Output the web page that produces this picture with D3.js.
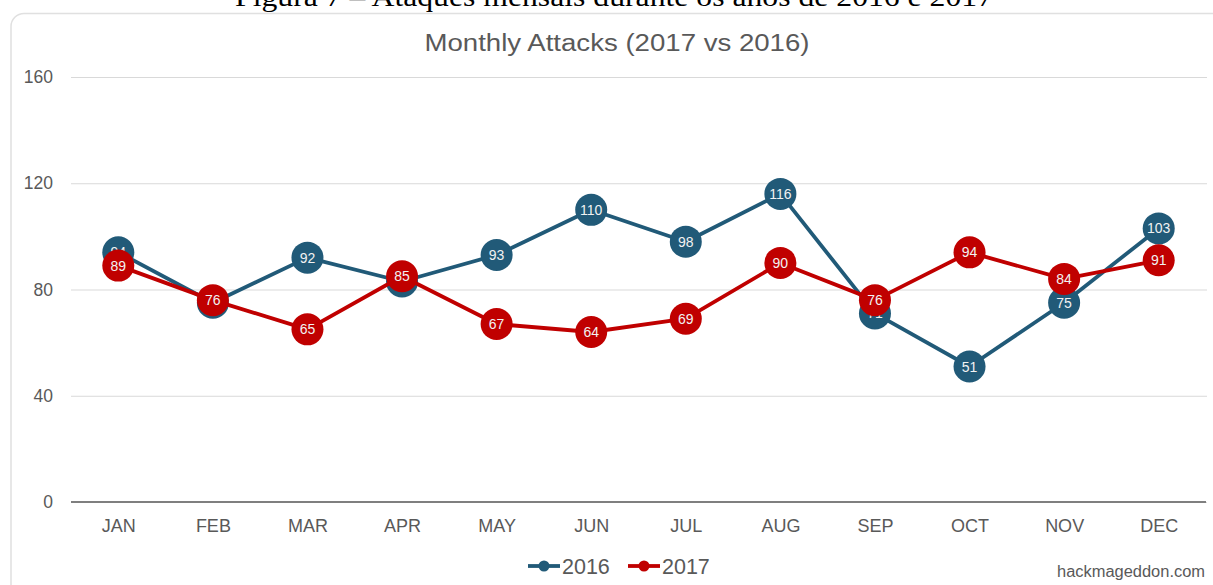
<!DOCTYPE html>
<html>
<head>
<meta charset="utf-8">
<script src="https://cdn.jsdelivr.net/npm/d3@7"></script>
<style>
  html, body { margin: 0; padding: 0; background: #ffffff; }
  svg { display: block; }
</style>
</head>
<body>
<svg id="chart" width="1213" height="585"></svg>
<script>
const months = ["JAN","FEB","MAR","APR","MAY","JUN","JUL","AUG","SEP","OCT","NOV","DEC"];
const attacks2016 = [94, 75, 92, 83, 93, 110, 98, 116, 71, 51, 75, 103];
const attacks2017 = [89, 76, 65, 85, 67, 64, 69, 90, 76, 94, 84, 91];
const yTicks = [0, 40, 80, 120, 160];
const seriesNames = ["2016", "2017"];
const seriesColors = ["#215a78", "#c00000"];
const caption = "Figura 7 – Ataques mensais durante os anos de 2016 e 2017";
const chartTitle = "Monthly Attacks (2017 vs 2016)";
const watermark = "hackmageddon.com";

const svg = d3.select("#chart");
const plot = { left: 71, right: 1206, top: 77, bottom: 502 };
const font = "'Liberation Sans', Arial, sans-serif";
const textGrey = "#595959";

// caption (cut off at the top)
svg.append("text")
  .attr("x", 614).attr("y", 6)
  .attr("text-anchor", "middle")
  .attr("font-family", "'Liberation Serif', 'Times New Roman', serif")
  .attr("font-size", 27)
  .attr("textLength", 758).attr("lengthAdjust", "spacingAndGlyphs")
  .attr("fill", "#000")
  .text(caption);

// frame
svg.append("rect")
  .attr("x", 11).attr("y", 13.5)
  .attr("width", 1230).attr("height", 600)
  .attr("rx", 13).attr("ry", 13)
  .attr("fill", "#fff")
  .attr("stroke", "#e0e0e0").attr("stroke-width", 1.5);

// title
svg.append("text")
  .attr("x", 617).attr("y", 51)
  .attr("text-anchor", "middle")
  .attr("font-family", font)
  .attr("font-size", 23)
  .attr("textLength", 385).attr("lengthAdjust", "spacingAndGlyphs")
  .attr("fill", textGrey)
  .text(chartTitle);

const x = d3.scalePoint().domain(months).range([plot.left, plot.right]).padding(0.5);
const y = d3.scaleLinear().domain([0, 160]).range([plot.bottom, plot.top]);

// y grid + labels
const yAxis = d3.axisLeft(y).tickValues(yTicks).tickSize(-(plot.right - plot.left + 1)).tickPadding(18);
const gy = svg.append("g").attr("transform", `translate(${plot.left},0)`).call(yAxis);
gy.select(".domain").remove();
gy.selectAll(".tick line").attr("stroke", "#d9d9d9").attr("stroke-width", 1.2);
gy.selectAll(".tick text").attr("font-family", font).attr("font-size", 17.5).attr("fill", textGrey);

// x axis
const xAxis = d3.axisBottom(x).tickSize(0).tickPadding(17);
const gx = svg.append("g").attr("transform", `translate(0,${plot.bottom})`).call(xAxis);
gx.select(".domain").attr("stroke", "#7f7f7f").attr("stroke-width", 2.2)
  .attr("d", `M${plot.left},0H${plot.right}`);
gx.selectAll(".tick text").attr("font-family", font).attr("font-size", 18).attr("fill", textGrey);

// series
const allSeries = [attacks2016, attacks2017];
const line = d3.line().x((d, i) => x(months[i])).y(d => y(d));
allSeries.forEach((vals, si) => {
  const g = svg.append("g");
  g.append("path").datum(vals)
    .attr("d", line)
    .attr("fill", "none")
    .attr("stroke", seriesColors[si])
    .attr("stroke-width", 3.8)
    .attr("stroke-linejoin", "round");
  g.selectAll("circle").data(vals).join("circle")
    .attr("cx", (d, i) => x(months[i]))
    .attr("cy", d => y(d))
    .attr("r", 16)
    .attr("fill", seriesColors[si]);
  g.selectAll("text").data(vals).join("text")
    .attr("x", (d, i) => x(months[i]))
    .attr("y", d => y(d) + 5)
    .attr("text-anchor", "middle")
    .attr("font-family", font)
    .attr("font-size", 14)
    .attr("fill", "#f2f2f2")
    .text(d => d);
});

// legend
const legendItems = [{ x: 528 }, { x: 628 }];
seriesNames.forEach((name, i) => {
  const lx = legendItems[i].x, ly = 566;
  svg.append("line").attr("x1", lx).attr("x2", lx + 32).attr("y1", ly).attr("y2", ly)
    .attr("stroke", seriesColors[i]).attr("stroke-width", 3.8);
  svg.append("circle").attr("cx", lx + 16).attr("cy", ly).attr("r", 5.5).attr("fill", seriesColors[i]);
  svg.append("text").attr("x", lx + 34).attr("y", ly + 7.5)
    .attr("font-family", font).attr("font-size", 21.5).attr("fill", textGrey)
    .text(name);
});

// watermark
svg.append("text")
  .attr("x", 1205).attr("y", 577)
  .attr("text-anchor", "end")
  .attr("font-family", font)
  .attr("font-size", 16)
  .attr("textLength", 148).attr("lengthAdjust", "spacingAndGlyphs")
  .attr("fill", textGrey)
  .text(watermark);
</script>
</body>
</html>
